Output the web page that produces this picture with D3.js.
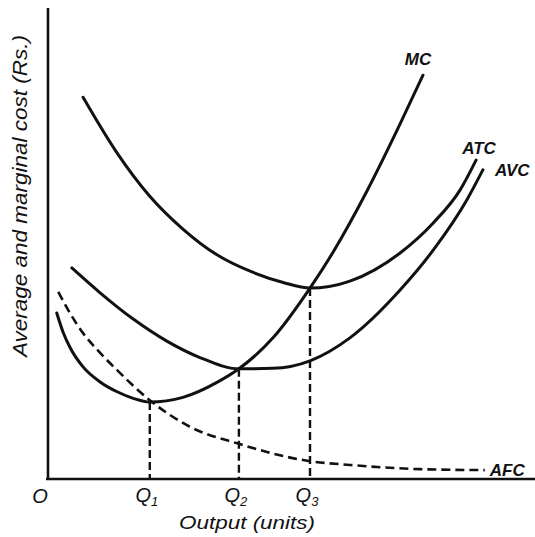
<!DOCTYPE html>
<html>
<head>
<meta charset="utf-8">
<script src="https://cdn.jsdelivr.net/npm/d3@7"></script>
<style>
  html, body { margin: 0; padding: 0; background: #ffffff; }
  svg { display: block; }
  text { font-family: "Liberation Sans", "DejaVu Sans", sans-serif; font-style: italic; fill: #111; }
</style>
</head>
<body>
<svg id="chart" width="535" height="537"></svg>
<script>
// ---- data (output units, cost units) ----
const mcX  = [1.8, 3.1, 4.5, 7.2, 10.7, 14.2, 17.5, 20.9, 27.7, 34.7, 39.2, 46.2, 53.8, 58.5, 65.5, 72.3, 77.0];
const mcY  = [35.4, 31.3, 28.1, 23.9, 20.7, 18.6, 17.2, 16.4, 17.4, 20.6, 23.5, 30.1, 40.7, 48.3, 61.4, 75.7, 86.1];
const atcX = [7.2, 14.2, 20.9, 27.7, 34.7, 41.5, 48.3, 53.8, 62.0, 72.3, 79.1, 84.6, 87.9];
const atcY = [81.4, 69.5, 60.3, 53.3, 47.8, 44.3, 41.9, 40.7, 42.2, 48.2, 54.6, 61.6, 68.0];
const avcX = [4.9, 10.7, 17.5, 24.4, 31.2, 39.2, 46.2, 53.8, 62.0, 72.3, 79.1, 86.0, 89.3];
const avcY = [45.0, 39.7, 34.1, 29.4, 25.9, 23.5, 23.6, 25.2, 30.1, 40.3, 48.8, 59.5, 65.9];
const afcX = [2.1, 4.5, 7.2, 10.7, 14.2, 20.9, 29.2, 39.2, 53.8, 62.0, 76.4, 89.7];
const afcY = [39.9, 35.4, 31.1, 26.9, 23.2, 16.8, 11.1, 7.5, 3.8, 3.0, 2.1, 1.9];
const qX     = [20.9, 39.2, 53.8];
const qY     = [16.4, 23.5, 40.7];
const qNames = ["1", "2", "3"];
const curveNames = ["MC", "ATC", "AVC", "AFC"];
const xLabel = "Output (units)";
const yLabel = "Average and marginal cost (Rs.)";

// ---- layout ----
const svg = d3.select("#chart");
const x = d3.scaleLinear().domain([0, 100]).range([48, 535]);
const y = d3.scaleLinear().domain([0, 100]).range([479, 10]);

const zip = (xs, ys) => xs.map((v, i) => [v, ys[i]]);
const line = d3.line().x(d => x(d[0])).y(d => y(d[1])).curve(d3.curveMonotoneX);

// axes (plain lines, no ticks)
svg.append("line").attr("x1", x(0)).attr("x2", x(0)).attr("y1", 8).attr("y2", y(0) + 1)
  .attr("stroke", "#111").attr("stroke-width", 2.6);
svg.append("line").attr("x1", x(0) - 2).attr("x2", 535).attr("y1", y(0)).attr("y2", y(0))
  .attr("stroke", "#111").attr("stroke-width", 2.6);

// vertical dashed guides
svg.selectAll("line.guide").data(qX).enter().append("line")
  .attr("class", "guide")
  .attr("x1", d => x(d)).attr("x2", d => x(d))
  .attr("y1", (d, i) => y(qY[i])).attr("y2", y(0))
  .attr("stroke", "#111").attr("stroke-width", 2.4).attr("stroke-dasharray", "8,4");

// curves
const solid = [[mcX, mcY], [atcX, atcY], [avcX, avcY]];
solid.forEach(([xs, ys]) => {
  svg.append("path").attr("d", line(zip(xs, ys)))
    .attr("fill", "none").attr("stroke", "#111").attr("stroke-width", 3).attr("stroke-linecap", "round");
});
svg.append("path").attr("d", line(zip(afcX, afcY)))
  .attr("fill", "none").attr("stroke", "#111").attr("stroke-width", 2.6).attr("stroke-dasharray", "9,5");

// curve labels
const labelPos = [
  [mcX[mcX.length - 1], mcY[mcY.length - 1], -5, -10, "middle"],
  [atcX[atcX.length - 1], atcY[atcY.length - 1], 3, -6, "middle"],
  [avcX[avcX.length - 1], avcY[avcY.length - 1], 12, 6, "start"],
  [afcX[afcX.length - 1], afcY[afcY.length - 1], 5, 6, "start"]
];
curveNames.forEach((n, i) => {
  const [cx, cy, dx, dy, anchor] = labelPos[i];
  svg.append("text").attr("x", x(cx) + dx).attr("y", y(cy) + dy)
    .attr("text-anchor", anchor).attr("font-size", 17).attr("font-weight", "bold").text(n);
});

// origin + Q labels
svg.append("text").attr("x", 40).attr("y", 503).attr("text-anchor", "middle")
  .attr("font-size", 20).text("O");
qX.forEach((q, i) => {
  const t = svg.append("text").attr("x", x(q) - 3).attr("y", 502).attr("text-anchor", "middle")
    .attr("font-size", 20);
  t.append("tspan").text("Q");
  t.append("tspan").attr("font-size", 13).attr("dy", 4).text(qNames[i]);
});

// axis titles
svg.append("text").attr("x", 247).attr("y", 529).attr("text-anchor", "middle")
  .attr("font-size", 19).attr("textLength", 136).attr("lengthAdjust", "spacingAndGlyphs").text(xLabel);
svg.append("text").attr("transform", "translate(27,196) rotate(-90)")
  .attr("text-anchor", "middle").attr("font-size", 20)
  .attr("textLength", 322).attr("lengthAdjust", "spacingAndGlyphs").text(yLabel);
</script>
</body>
</html>
